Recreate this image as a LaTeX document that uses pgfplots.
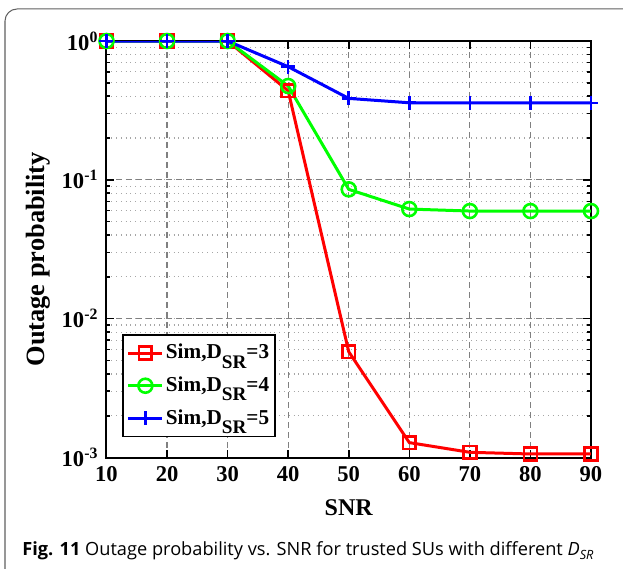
\documentclass[border=0pt]{standalone}
\usepackage{pgfplots}
\pgfplotsset{compat=1.18}
\usepackage{fontspec}
\setmainfont{Liberation Serif}
\newfontfamily\capfont{Open Sans}
\definecolor{mred}{RGB}{255,0,0}
\definecolor{mgreen}{RGB}{0,255,0}
\definecolor{mblue}{RGB}{0,0,255}
\newcommand{\dsr}{D\raisebox{-0.95ex}{\fontsize{9.6}{11}\selectfont SR}}
\begin{document}
\begin{tikzpicture}
\useasboundingbox (0,0) rectangle (311.5pt,284.5pt);
\draw[gray!75!black, line width=0.5pt] (2.5pt,-5pt) -- (2.5pt,274pt) arc[start angle=180,end angle=90,radius=6pt] -- (320pt,280pt);
\begin{axis}[
  at={(53.25pt,55.75pt)}, anchor=south west,
  scale only axis, width=242.25pt, height=208.25pt,
  ymode=log, xmin=10, xmax=90, ymin=1e-3, ymax=1,
  xtick={10,20,...,90},
  xticklabels={10,20,30,40,50,60,70,80,90},
  ytick={1e-3,1e-2,1e-1,1},
  yticklabels={10\textsuperscript{-3},10\textsuperscript{-2},10\textsuperscript{-1},10\textsuperscript{0}},
  ticklabel style={font=\bfseries\fontsize{11.3}{13}\selectfont},
  xticklabel style={yshift=-1pt},
  yticklabel style={xshift=-0.5pt},
  tick align=inside, major tick length=4pt, minor tick length=2pt,
  axis line style={line width=1pt}, every tick/.style={black, line width=0.8pt},
  xmajorgrids, ymajorgrids, yminorgrids,
  major grid style={black!50, dash pattern=on 3pt off 2pt, line width=0.6pt},
  minor grid style={black!35, dotted, line width=0.6pt},
  xlabel={\bfseries\fontsize{12}{13}\selectfont SNR},
  ylabel={\bfseries\fontsize{13.2}{14}\selectfont Outage probability},
  xlabel style={yshift=-2pt},
  ylabel style={yshift=-1pt, xshift=-5pt},
  legend style={at={(0.032,0.049)}, anchor=south west, draw=black, line width=0.8pt,
    font=\bfseries\fontsize{10.6}{12}\selectfont, inner xsep=2pt, inner ysep=3.5pt, row sep=5.5pt,
    nodes={inner sep=1pt}},
  legend cell align=left,
]
\addplot[mred, line width=1.5pt, mark=square, mark size=3.2pt, mark options={solid, line width=1.3pt}] coordinates {
(10,1) (20,1) (30,1) (40,0.438) (50,0.00578) (60,0.00128) (70,0.00109) (80,0.00106) (90,0.00106)};
\addlegendentry{Sim,\dsr=3}
\addplot[mgreen, line width=1.5pt, mark=o, mark size=3.5pt, mark options={solid, line width=1.3pt}] coordinates {
(10,1) (20,1) (30,1) (40,0.474) (50,0.0854) (60,0.0616) (70,0.0596) (80,0.0596) (90,0.0596)};
\addlegendentry{Sim,\dsr=4}
\addplot[mblue, line width=1.5pt, mark=+, mark size=3.5pt, mark options={solid, line width=1.3pt}] coordinates {
(10,1) (20,1) (30,1) (40,0.653) (50,0.386) (60,0.359) (70,0.358) (80,0.358) (90,0.358)};
\addlegendentry{Sim,\dsr=5}
\end{axis}
\node[anchor=base west, inner sep=0pt, font=\capfont\fontsize{9.1}{10}\selectfont] at (11pt,6.5pt)
  {\textbf{Fig. 11} Outage probability vs. SNR for trusted SUs with different \textit{D}\textsubscript{\textit{SR}}};
\end{tikzpicture}
\end{document}
